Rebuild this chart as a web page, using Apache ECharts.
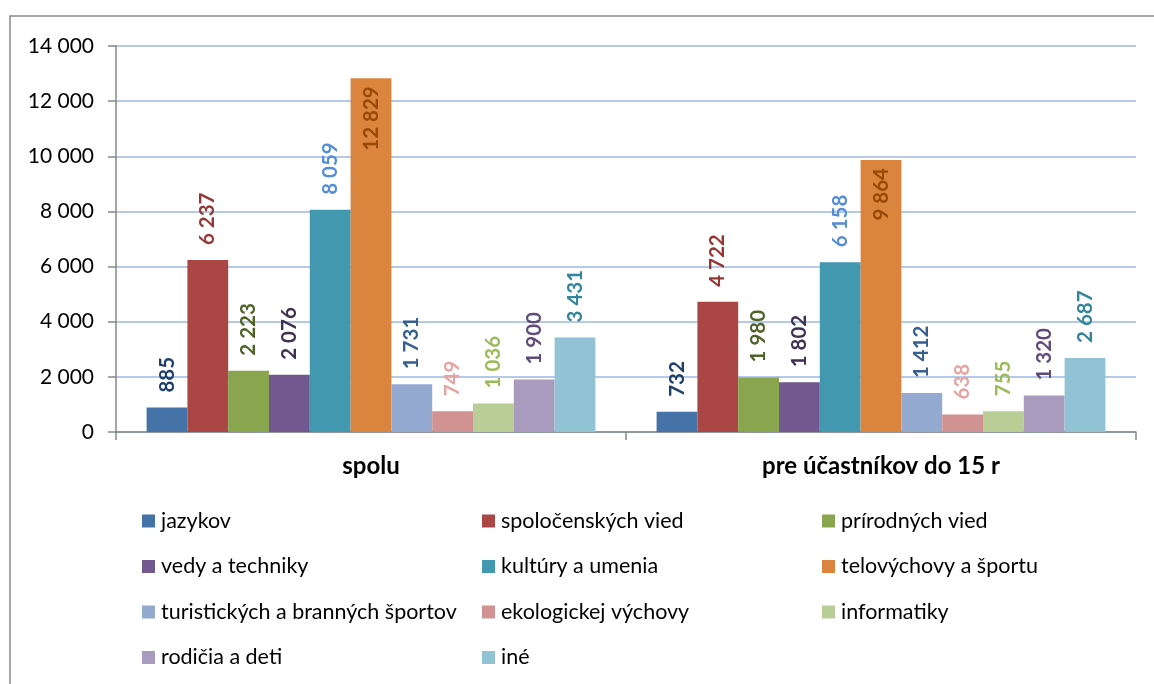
<!DOCTYPE html>
<html><head><meta charset="utf-8">
<script src="https://cdn.jsdelivr.net/npm/echarts@6/dist/echarts.min.js"></script>
<style>html,body{margin:0;padding:0;background:#fff}#c{width:1154px;height:684px}</style>
</head><body><div id="c"></div>
<script>
const categories = ['spolu', 'pre účastníkov do 15 r'];
const yTicks = [0, 2000, 4000, 6000, 8000, 10000, 12000, 14000];

const jazykov = [885, 732];
const spolocenskychVied = [6237, 4722];
const prirodnychVied = [2223, 1980];
const vedyATechniky = [2076, 1802];
const kulturyAUmenia = [8059, 6158];
const telovychovyASportu = [12829, 9864];
const turistickych = [1731, 1412];
const ekologickej = [749, 638];
const informatiky = [1036, 755];
const rodiciaADeti = [1900, 1320];
const ine = [3431, 2687];

const seriesNames = ['jazykov','spoločenských vied','prírodných vied','vedy a techniky','kultúry a umenia','telovýchovy a športu','turistických a branných športov','ekologickej výchovy','informatiky','rodičia a deti','iné'];
const seriesValues = [jazykov, spolocenskychVied, prirodnychVied, vedyATechniky, kulturyAUmenia, telovychovyASportu, turistickych, ekologickej, informatiky, rodiciaADeti, ine];
const barColors = ['#4572A7','#AA4643','#89A54E','#71588F','#4198AF','#DB843D','#93A9CF','#D19392','#B9CD96','#A99BBD','#92C3D4'];
const labelColors = ['#1F3F6B','#953735','#4F6228','#403152','#558ED5','#984807','#376092','#E6A3A1','#9BBB59','#604A7B','#31859C'];
const insideTopSeries = 5; // labels of the tallest series sit inside the bar top

function fmt(v){ return String(v).replace(/\B(?=(\d{3})+(?!\d))/g, ' '); }

const FONT = 'Lato';
const chart = echarts.init(document.getElementById('c'), null, {renderer:'canvas'});

const series = seriesNames.map((name, i) => ({
  name, type: 'bar', barGap: '0%', barCategoryGap: '12%',
  itemStyle: {color: barColors[i]},
  label: i === insideTopSeries ? {
    show: true, position: 'insideTop', rotate: 90, align: 'right', verticalAlign: 'middle', distance: 8,
    formatter: p => fmt(p.value), color: labelColors[i], fontFamily: FONT, fontWeight: 'bold', fontSize: 20.5
  } : {
    show: true, position: 'top', rotate: 90, align: 'left', verticalAlign: 'middle', distance: 15,
    formatter: p => fmt(p.value), color: labelColors[i], fontFamily: FONT, fontWeight: 'bold', fontSize: 20.5
  },
  data: seriesValues[i]
}));

const cols = [[0,3,6,9],[1,4,7,10],[2,5,8]];
const colLeft = [137, 477, 817];
const legends = cols.map((c, k) => ({
  left: colLeft[k], top: 505, orient: 'vertical', icon: 'rect',
  itemWidth: 13, itemHeight: 13, itemGap: 23.5,
  data: c.map(i => seriesNames[i]),
  textStyle: {fontFamily: FONT, fontSize: 21.5, color: '#000', lineHeight: 22, padding: [0,0,0,1]},
  selectedMode: false
}));

chart.setOption({
  animation: false,
  textStyle: {fontFamily: FONT},
  graphic: [{type:'rect', shape:{x:10, y:16, width:1170, height:700}, style:{fill:'none', stroke:'#8a8a8a', lineWidth:1.5}, silent:true}],
  grid: {left: 116, top: 46, right: 18, bottom: 252},
  legend: legends,
  xAxis: {
    type: 'category', data: categories,
    axisLine: {lineStyle: {color: '#868686', width: 1.5}},
    axisTick: {show: true, length: 8, lineStyle: {color: '#868686', width: 1.5}},
    axisLabel: {fontFamily: FONT, fontSize: 24, fontWeight: 'bold', color: '#000', margin: 22}
  },
  yAxis: {
    type: 'value', min: 0, max: 14000, interval: 2000,
    axisLine: {show: true, lineStyle: {color: '#868686', width: 1.5}},
    axisTick: {show: true, length: 8, lineStyle: {color: '#868686', width: 1.5}},
    splitLine: {lineStyle: {color: '#9CB9E3', width: 1.5}},
    axisLabel: {fontFamily: FONT, fontSize: 21, color: '#000', margin: 22,
      formatter: v => yTicks.includes(v) ? fmt(v) : ''}
  },
  series
});
</script></body></html>
